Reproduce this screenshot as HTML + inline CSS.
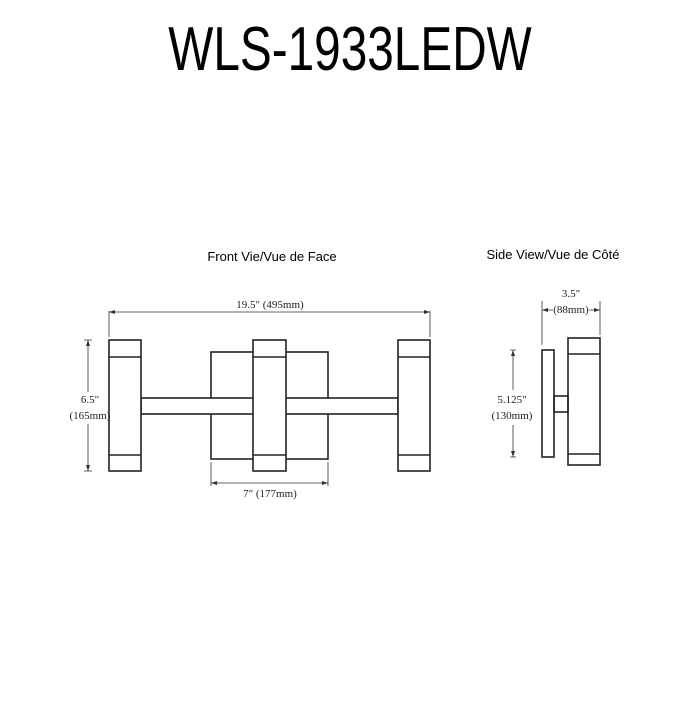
<!DOCTYPE html>
<html><head><style>body{margin:0;background:#fff}</style></head><body>
<svg width="700" height="700" xmlns="http://www.w3.org/2000/svg" font-family="Liberation Serif, serif">
<rect width="700" height="700" fill="#fff"/>
<text x="350" y="70" text-anchor="middle" font-family="Liberation Sans, sans-serif" font-size="62" transform="translate(350 0) scale(0.77 1) translate(-350 0)">WLS-1933LEDW</text>
<text x="272" y="261" text-anchor="middle" font-family="Liberation Sans, sans-serif" font-size="13">Front Vie/Vue de Face</text>
<text x="553" y="259" text-anchor="middle" font-family="Liberation Sans, sans-serif" font-size="13">Side View/Vue de Côté</text>
<g fill="none" stroke="#222" stroke-width="1.6">
<rect x="211" y="352" width="117" height="107"/>
<rect x="141" y="398" width="257" height="16" fill="#fff"/>
<rect x="109" y="340" width="32" height="131" fill="#fff"/>
<rect x="253" y="340" width="33" height="131" fill="#fff"/>
<rect x="398" y="340" width="32" height="131" fill="#fff"/>
<path d="M109 357H141M109 455H141M253 357H286M253 455H286M398 357H430M398 455H430"/>
<rect x="542" y="350" width="12" height="107"/>
<rect x="554" y="396" width="14" height="16"/>
<rect x="568" y="338" width="32" height="127"/>
<path d="M568 354H600M568 454H600"/>
</g>
<g stroke="#333" stroke-width="0.8" fill="none">
<path d="M109 311V337M430 311V337M109 312H430"/>
<path d="M84 340H92M84 471H92M88 340V392M88 424V471"/>
<path d="M211 462V486M328 462V486M211 483H328"/>
<path d="M542 301V345M600 301V335M542 310H553M589 310H600"/>
<path d="M510 350H516M510 457H516M513 350V390M513 425V457"/>
</g>
<g font-size="11" text-anchor="middle" fill="#222">
<text x="270" y="308">19.5" (495mm)</text>
<text x="90" y="403">6.5"</text>
<text x="90" y="419">(165mm)</text>
<text x="270" y="497">7" (177mm)</text>
<text x="571" y="297">3.5"</text>
<text x="571" y="313">(88mm)</text>
<text x="512" y="403">5.125"</text>
<text x="512" y="419">(130mm)</text>
</g>
<g fill="#333">
<path d="M109 312l6-2v4zM430 312l-6-2v4zM211 483l6-2v4zM328 483l-6-2v4zM88 340l-2 6h4zM88 471l-2-6h4zM542 310l6-2v4zM600 310l-6-2v4zM513 350l-2 6h4zM513 457l-2-6h4z"/>
</g>
</svg>
</body></html>
